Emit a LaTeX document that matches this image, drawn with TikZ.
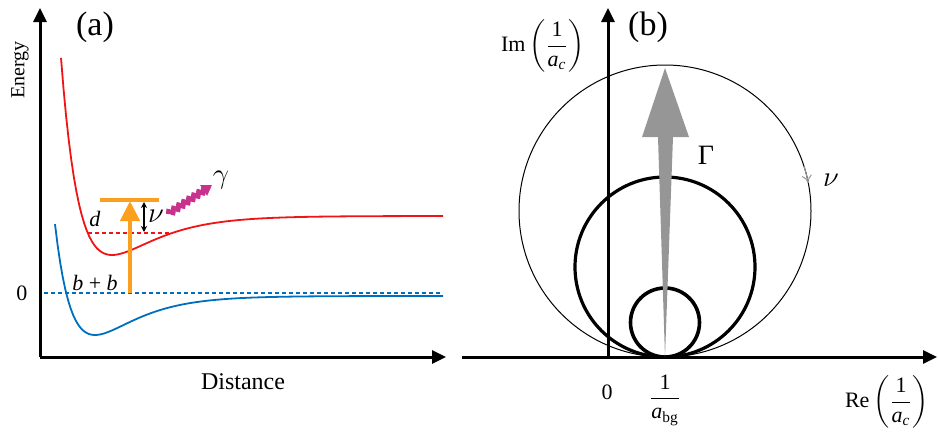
\documentclass[tikz,border=0pt]{standalone}
\usepackage{amsmath}
\usepackage{fontspec}
\setmainfont{Liberation Serif}
\usetikzlibrary{arrows.meta,decorations.pathmorphing}

\definecolor{potred}{RGB}{240,20,20}
\definecolor{potblue}{RGB}{0,110,190}
\definecolor{exorange}{RGB}{250,160,30}
\definecolor{phmagenta}{RGB}{200,50,140}
\definecolor{widthgray}{RGB}{150,150,150}

\begin{document}
\begin{tikzpicture}[
    x=0.5pt, y=-0.5pt,
    font=\fontsize{11}{13}\selectfont,
    axis/.style={line width=1.5pt, -{Triangle[length=7pt,width=6.5pt]}},
    pot/.style={line width=0.9pt},
    level/.style={line width=0.75pt, dash pattern=on 2pt off 1.5pt},
    panel/.style={font=\fontsize{17}{20}\selectfont},
    big/.style={font=\fontsize{14}{16}\selectfont},
]
\useasboundingbox (0,0) rectangle (938,439);

% (a) potential curves
\coordinate (aO) at (40,357);
\coordinate (aY) at (40,8);
\coordinate (aX) at (446,357);
\draw[axis] (aO) -- (aY);
\draw[axis] (aO) -- (aX);

\coordinate (zeroL) at (44,293);
\coordinate (zeroR) at (443,293);
\coordinate (dL) at (88,233);
\coordinate (dR) at (173,233);
\draw[level, draw=potblue] (zeroL) -- (zeroR);
\draw[level, draw=potred] (dL) -- (dR);

\draw[pot, potblue] plot[domain=55:443, samples=150] (\x, {296-39*((1-exp(-0.0247*(\x-95)))^2-1)});
\draw[pot, potred] plot[domain=61:443, samples=150] (\x, {216-39*((1-exp(-0.0231*(\x-112)))^2-1)});

\coordinate (barL) at (100,200);
\coordinate (barR) at (159,200);
\coordinate (exbot) at (130,293);
\coordinate (extop) at (130,201);
\draw[exorange, line width=2pt] (barL) -- (barR);
\draw[exorange, line width=2.2pt, -{Triangle[length=10pt,width=9.5pt]}] (exbot) -- (extop);

\coordinate (nuT) at (144,202);
\coordinate (nuB) at (144,232);
\draw[line width=0.6pt, {Stealth[length=3pt,width=3pt]}-{Stealth[length=3pt,width=3pt]}] (nuT) -- (nuB);

\coordinate (phS) at (168,214);
\coordinate (phE) at (212,185);
\draw[phmagenta, line width=2pt, -{Triangle[length=5pt,width=6pt]},
    decoration={snake, amplitude=1.2pt, segment length=3pt, post length=3pt}, decorate] (phS) -- (phE);

\node[panel] (lbla) at (95,27) {(a)};
\node[rotate=90, font=\fontsize{10}{12}\selectfont] (lblE) at (20,70) {Energy};
\node[font=\fontsize{12}{14}\selectfont] (lblD) at (243,382) {Distance};
\node (lbl0a) at (22,293) {0};
\node (lbld) at (95,219) {\textit{d}};
\node (lblbb) at (95,283) {\textit{b} + \textit{b}};
\node[big] (lblnu) at (156,216) {$\nu$};
\node[big] (lblg) at (221,180) {$\gamma$};

% (b) complex plane
\coordinate (bO) at (608,357);
\coordinate (bY) at (608,8);
\coordinate (bXL) at (462,357);
\coordinate (bX) at (937,357);
\draw[axis] (bXL) -- (bX);
\draw[axis] (bO) -- (bY);

\coordinate (touch) at (665,357);
\draw[line width=0.5pt] (665,211) circle[radius=146];
\draw[line width=1.6pt] (665,267) circle[radius=90];
\draw[line width=1.8pt] (665,322.5) circle[radius=34.5];

\fill[widthgray] (touch) -- (673,137) -- (689,137) -- (665,68) -- (642,137) -- (658,137) -- cycle;
\draw[widthgray, line width=0.5pt, -{To[length=4pt,width=5pt]}] ([shift={(-18:146)}]665,211) arc[start angle=-18, end angle=-11, radius=146];

\node[panel] (lblb) at (648,27) {(b)};
\node (lblIm) at (543,46) {Im\,$\left(\dfrac{\text{1}}{\textit{a}_{\textit{c}}}\right)$};
\node[big] (lblG) at (706,155) {Γ};
\node[big] (lblnub) at (831,180) {$\nu$};
\node (lbl0b) at (607,392) {0};
\node (lblabg) at (665,400) {$\dfrac{\text{1}}{\textit{a}_{\text{bg}}}$};
\node (lblRe) at (887,402) {Re\,$\left(\dfrac{\text{1}}{\textit{a}_{\textit{c}}}\right)$};
\end{tikzpicture}
\end{document}
